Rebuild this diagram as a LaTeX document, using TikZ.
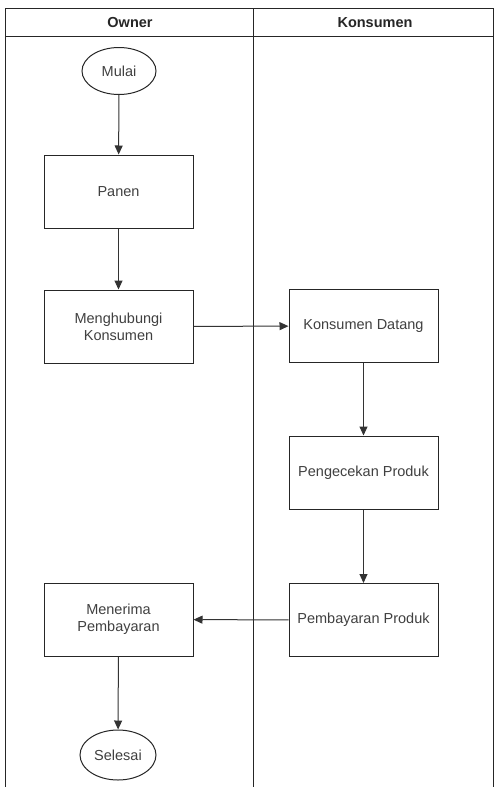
\documentclass[tikz,border=0pt]{standalone}
\usepackage{fontspec}
\setmainfont{Liberation Sans}
\usetikzlibrary{arrows.meta,shapes.geometric}
\begin{document}
\begin{tikzpicture}[x=1pt,y=-1pt,
  box/.style={draw=black!85,line width=1pt,minimum width=149pt,minimum height=73pt,align=center,inner sep=2pt,font=\fontsize{14.5}{17}\selectfont,text=black!75},
  term/.style={draw=black!85,line width=1pt,ellipse,minimum width=74pt,minimum height=47pt,inner sep=0pt,font=\fontsize{14.5}{17}\selectfont,text=black!75},
  lane/.style={draw=black!85,line width=1pt},
  hdr/.style={font=\bfseries\fontsize{14.5}{17}\selectfont,text=black!85},
  flow/.style={draw=black!80,line width=1pt,-{Triangle[length=9pt,width=8pt]}}]
\useasboundingbox (0,0) rectangle (494,787);
\fill[white] (0,0) rectangle (494,787);
% lanes
\draw[lane] (5,787) -- (5,8) -- (493,8) -- (493,787);
\draw[lane] (253,8) -- (253,787);
\draw[lane] (5,36) -- (493,36);
\node[hdr] (h1) at (130,22.5) {Owner};
\node[hdr] (h2) at (375,22.5) {Konsumen};
% nodes
\node[term] (mulai) at (119,71) {Mulai};
\node[box] (panen) at (118.5,191.5) {Panen};
\node[box] (hub) at (118.5,326.5) {Menghubungi\\Konsumen};
\node[box] (datang) at (363.5,326) {Konsumen Datang};
\node[box] (cek) at (363.5,472.5) {Pengecekan Produk};
\node[box] (bayar) at (363.5,620) {Pembayaran Produk};
\node[box] (terima) at (118.5,619.5) {Menerima\\Pembayaran};
\node[term,minimum width=76pt,minimum height=50pt] (selesai) at (118,755) {Selesai};
% connectors
\draw[flow] (mulai) -- (panen);
\draw[flow] (panen) -- (hub);
\draw[flow] (hub) -- (datang);
\draw[flow] (datang) -- (cek);
\draw[flow] (cek) -- (bayar);
\draw[flow] (bayar) -- (terima);
\draw[flow] (terima) -- (selesai);
\end{tikzpicture}
\end{document}
